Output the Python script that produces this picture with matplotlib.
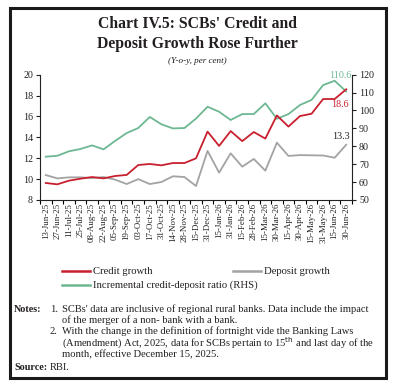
import matplotlib
matplotlib.use("Agg")
import matplotlib.pyplot as plt
from matplotlib.patches import Rectangle
from matplotlib.lines import Line2D

plt.rcParams['font.family'] = ['Liberation Serif', 'DejaVu Serif']

dates = ["13-Jun-25", "27-Jun-25", "11-Jul-25", "25-Jul-25", "08-Aug-25", "22-Aug-25",
         "05-Sep-25", "19-Sep-25", "03-Oct-25", "17-Oct-25", "31-Oct-25", "14-Nov-25",
         "28-Nov-25", "15-Dec-25", "31-Dec-25", "15-Jan-26", "31-Jan-26", "15-Feb-26",
         "28-Feb-26", "15-Mar-26", "30-Mar-26", "15-Apr-26", "30-Apr-26", "15-May-26",
         "31-May-26", "15-Jun-26", "30-Jun-26"]

credit_growth = [9.63, 9.50, 9.85, 10.04, 10.20, 10.07, 10.30, 10.40, 11.35, 11.45, 11.32,
                 11.54, 11.54, 11.99, 14.55, 13.18, 14.60, 13.64, 14.51, 13.88, 16.10,
                 15.03, 16.04, 16.26, 17.67, 17.67, 18.6]
deposit_growth = [10.39, 10.07, 10.17, 10.17, 10.10, 10.20, 9.95, 9.53, 10.00, 9.53, 9.72,
                  10.27, 10.20, 9.34, 12.70, 10.62, 12.47, 11.19, 11.93, 10.81, 13.49,
                  12.22, 12.30, 12.28, 12.26, 12.05, 13.3]
icdr = [74.2, 74.7, 77.2, 78.5, 80.5, 78.3, 83.0, 87.4, 90.2, 96.4, 92.3, 90.0, 90.2, 95.5,
        102.1, 99.3, 94.7, 98.0, 98.0, 104.0, 95.4, 98.0, 103.1, 105.9, 114.2, 116.6, 110.6]

left_ticks = [8, 10, 12, 14, 16, 18, 20]
right_ticks = [50, 60, 70, 80, 90, 100, 110, 120]

RED = "#C8202E"
GRAY = "#A3A3A3"
GREEN = "#6DB893"
TXT = "#231F20"

fig = plt.figure(figsize=(3.95, 3.88), dpi=100)

# frame
fig.patches.append(Rectangle((10/395, 1-378/388), 376/395, 370/388, transform=fig.transFigure,
                             fill=False, edgecolor="#1a1a1a", linewidth=2.2))

fig.text(0.5, 1-24/388, "Chart IV.5: SCBs' Credit and", ha='center', va='center',
         fontsize=11.3, fontweight='bold', color=TXT)
fig.text(0.5, 1-44/388, "Deposit Growth Rose Further", ha='center', va='center',
         fontsize=11.3, fontweight='bold', color=TXT)
fig.text(0.5, 1-61/388, "(Y-o-y, per cent)", ha='center', va='center',
         fontsize=6.6, style='italic', color=TXT)

ax = fig.add_axes([40/395, 1-200/388, 312/395, 125.3/388])
ax2 = ax.twinx()

x = list(range(len(dates)))
ax.plot(x, credit_growth, color=RED, lw=1.3, zorder=3)
ax.plot(x, deposit_growth, color=GRAY, lw=1.3, zorder=2)
ax2.plot(x, icdr, color=GREEN, lw=1.3)
ax.set_zorder(ax2.get_zorder() + 1)
ax.patch.set_visible(False)

ax.set_xlim(-0.5, len(dates) - 0.5)
ax.set_ylim(8, 20)
ax2.set_ylim(50, 120)
ax.set_yticks(left_ticks)
ax2.set_yticks(right_ticks)
ax.set_xticks([i - 0.5 for i in range(len(dates) + 1)])
ax.set_xticklabels([])
ax.set_xticks(x, minor=True)
ax.set_xticklabels(dates, minor=True, rotation=90, fontsize=6.4, color=TXT)
ax.tick_params(axis='x', which='minor', length=0, pad=2)
ax.tick_params(axis='x', which='major', length=3, width=0.8, direction='out')
ax.tick_params(axis='y', length=3, width=0.8, labelsize=7.2, colors=TXT, pad=2)
ax2.tick_params(axis='y', length=3, width=0.8, labelsize=7.2, colors=TXT, pad=2)
for a in (ax, ax2):
    a.spines['top'].set_visible(False)
    for s in a.spines.values():
        s.set_linewidth(0.8)
        s.set_color("#222222")
ax.spines['right'].set_visible(False)
ax2.spines['left'].set_visible(False)
ax2.spines['bottom'].set_visible(False)

# data labels
ax2.annotate("110.6", xy=(x[-1], icdr[-1]), xytext=(3.6, 8.5), textcoords='offset points',
             ha='right', va='bottom', fontsize=7.2, color=GREEN)
ax.annotate("18.6", xy=(x[-1], credit_growth[-1]), xytext=(1.5, -7.5), textcoords='offset points',
            ha='right', va='top', fontsize=7.2, color=RED)
ax.annotate("13.3", xy=(x[-1], deposit_growth[-1]), xytext=(2.2, 2.5), textcoords='offset points',
            ha='right', va='bottom', fontsize=7.2, color=TXT)

# legend
def leg(x0, y, color, label):
    fig.lines.append(Line2D([x0/395, (x0+28)/395], [1-y/388, 1-y/388], transform=fig.transFigure,
                            color=color, lw=1.8))
    fig.text((x0+31)/395, 1-y/388, label, ha='left', va='center', fontsize=7.7, color=TXT)

leg(62, 271, RED, "Credit growth")
leg(233, 271, GRAY, "Deposit growth")
leg(62, 285, GREEN, "Incremental credit-deposit ratio (RHS)")

# notes
fs = 7.6
fig.text(14/395, 1-309/388, "Notes:", fontweight='bold', fontsize=fs - 0.3, va='center', color=TXT)
fig.text(50/395, 1-309/388, "1.", fontsize=fs, va='center', color=TXT)
fig.text(62/395, 1-309/388, "SCBs' data are inclusive of regional rural banks. Data include the impact",
         fontsize=fs, va='center', color=TXT)
fig.text(62/395, 1-320/388, "of the merger of a non- bank with a bank.", fontsize=fs, va='center', color=TXT)
fig.text(50/395, 1-331/388, "2.", fontsize=fs, va='center', color=TXT)
fig.text(62/395, 1-331/388, "With the change in the definition of fortnight vide the Banking Laws",
         fontsize=fs, va='center', color=TXT)
fig.text(62/395, 1-343/388, "(Amendment) Act, 2025, data for SCBs pertain to 15$^{\\rm th}$ and last day of the",
         fontsize=fs, va='center', color=TXT)
fig.text(62/395, 1-355/388, "month, effective December 15, 2025.", fontsize=fs, va='center', color=TXT)
fig.text(14/395, 1-367/388, "Source:", fontweight='bold', fontsize=fs - 0.3, va='center', color=TXT)
fig.text(50/395, 1-367/388, "RBI.", fontsize=fs, va='center', color=TXT)

fig.savefig("out.png", dpi=100)
